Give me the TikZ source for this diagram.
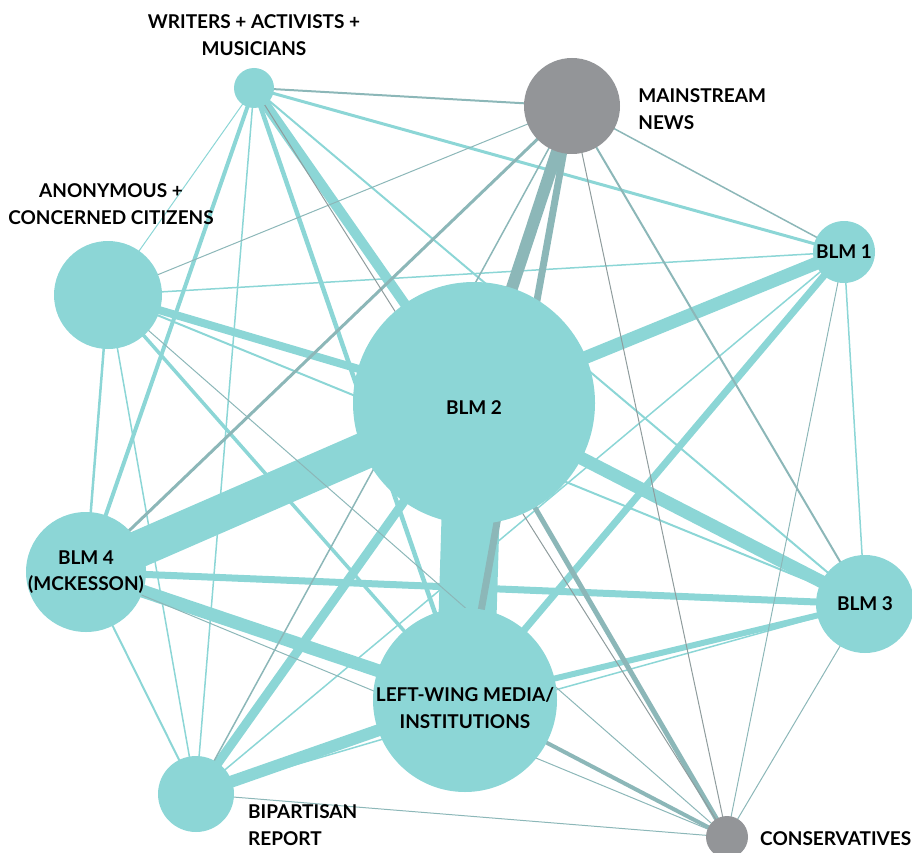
\documentclass[tikz,border=0pt]{standalone}
\usepackage{fontspec}
\setmainfont{Lato}
\usetikzlibrary{positioning}
\usetikzlibrary{backgrounds}
\definecolor{tealc}{HTML}{8CD6D6}
\definecolor{greyc}{HTML}{939598}
\definecolor{mixc}{HTML}{8CB7B8}
\definecolor{thinc}{HTML}{8F9C9D}

\begin{document}
\begin{tikzpicture}[x=1pt, y=-1pt,
                font=\fontsize{19}{26.5}\selectfont\bfseries,
                actor/.style={circle, fill=tealc, inner sep=0pt, minimum size=#1pt},
                outlet/.style={circle, fill=greyc, inner sep=0pt, minimum size=#1pt},
                txt/.style={align=center, inner sep=0pt},
                lnk/.style={draw=tealc, line width=#1pt},
                mlnk/.style={draw=mixc, line width=#1pt},
                glnk/.style={draw=thinc, line width=#1pt}
            ]
            \useasboundingbox (0,0) rectangle (912,853);
            % groups
            \node[actor=40](w) at (254,88) {};
            \node[outlet=96](mn) at (572,106) {};
            \node[actor=108](an) at (108,295) {};
            \node[actor=62](b1) at (844,252) {};
            \node[actor=242](b2) at (474,403) {};
            \node[actor=120](b4) at (86,572) {};
            \node[actor=98](b3) at (865,604) {};
            \node[actor=184](lw) at (465,700) {};
            \node[actor=76](bp) at (196,794) {};
            \node[outlet=42](cons) at (727,837) {};
            \coordinate (lwlow) at ([yshift=-15pt]lw.center);
            % names
            \node[txt](b1lbl) at (b1) {BLM 1};
            \node[txt](b2lbl) at ([yshift=-5pt]b2) {BLM 2};
            \node[txt](b3lbl) at (b3) {BLM 3};
            \node[txt](b4lbl) at (b4) {BLM 4\\(MCKESSON)};
            \node[txt](lwlbl) at ([yshift=-8pt]lw) {LEFT-WING MEDIA/\\INSTITUTIONS};
            \node[txt, above=12pt of w](wlbl) {WRITERS + ACTIVISTS +\\MUSICIANS};
            \node[txt, above=16pt of an, xshift=3pt](anlbl) {ANONYMOUS +\\CONCERNED CITIZENS};
            \node[txt, align=left, right=18pt of mn, yshift=-3pt](mnlbl) {MAINSTREAM\\NEWS};
            \node[txt, align=left, anchor=west](bplbl) at (248,825) {BIPARTISAN\\REPORT};
            \node[txt, anchor=west](conslbl) at (760,839) {CONSERVATIVES};
            % links
            \begin{scope}[on background layer]
            \foreach \a/\b/\t in {b2/lw/58, b2/b4/37, b1/b2/13, b2/b3/13, b4/lw/13, lw/bp/12,
                                  w/b2/10, b2/bp/9, an/b2/8, b1/lw/7, b4/b3/7, lw/b3/6,
                                  w/lw/4.5, w/b4/4, an/lw/3.5, w/b1/3, an/b4/2.5, w/b3/2,
                                  an/b3/2, b4/bp/2, w/bp/1.5, an/b1/1.5, an/bp/1.5,
                                  b1/bp/1.5, b1/b3/1.5, w/an/1, lwlow/bp/1.5, lwlow/b3/1.5}
                \draw[lnk=\t] (\a.center) -- (\b.center);
            \foreach \a/\b/\t in {mn/b2/12, mn/lw/7, cons/b2/5, cons/lw/4, mn/b4/3, mn/w/2,
                                  mn/b3/2, mn/b1/1.5, mn/bp/1.5, mn/an/1, cons/b1/1,
                                  cons/b3/1, cons/bp/1, cons/an/1, cons/b4/1}
                \draw[mlnk=\t] (\a.center) -- (\b.center);
            \foreach \a/\b/\t in {mn/cons/1, w/cons/1}
                \draw[glnk=\t] (\a.center) -- (\b.center);
            \end{scope}
        \end{tikzpicture}
\end{document}
